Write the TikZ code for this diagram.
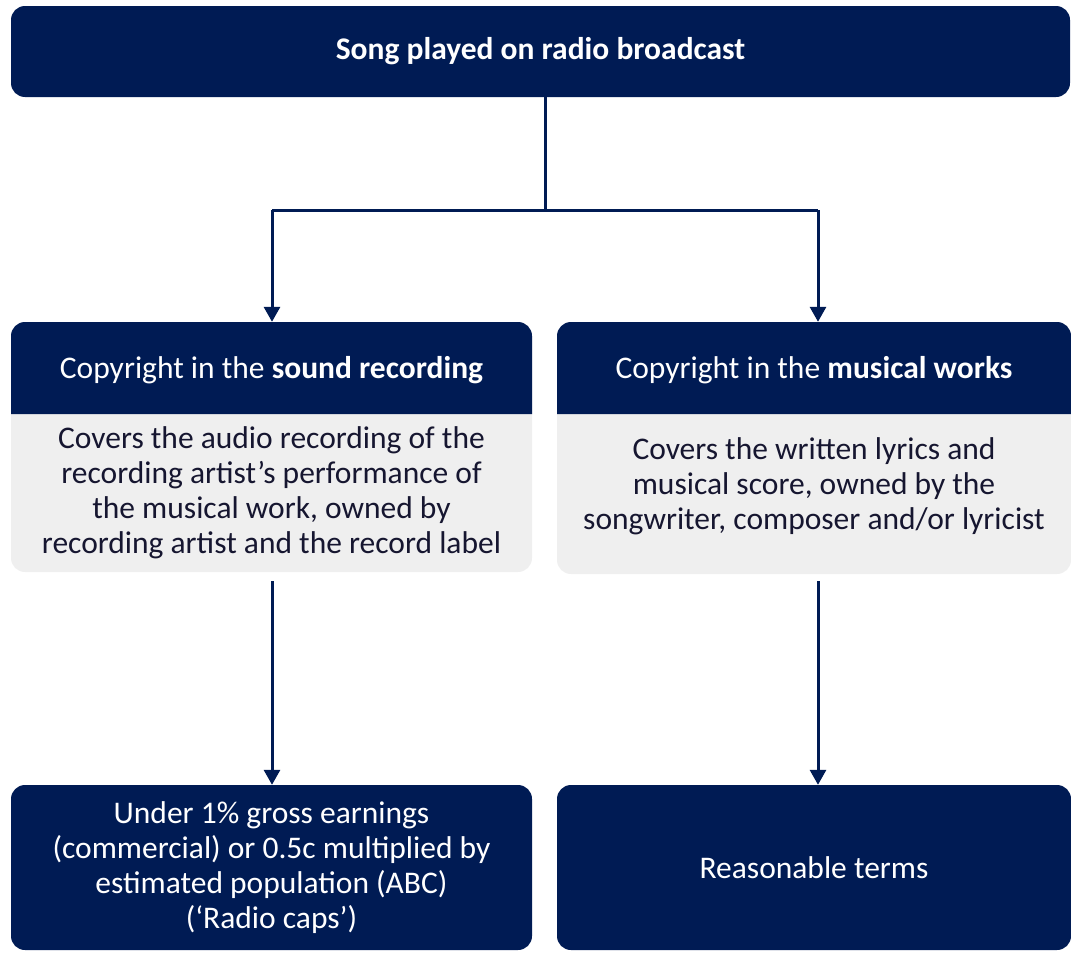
\documentclass[tikz,border=0pt]{standalone}
\usepackage{fontspec}
\setmainfont{Carlito}
\usetikzlibrary{arrows.meta}
\definecolor{navy}{RGB}{0,27,84}
\definecolor{paleg}{RGB}{239,239,239}
\definecolor{inkc}{RGB}{22,22,48}
\begin{document}
\begin{tikzpicture}[x=1pt,y=-1pt,
  darkbox/.style={fill=navy,rounded corners=14pt,inner sep=0pt,text=white,align=center,
    font=\fontsize{31.5}{35}\selectfont},
  bodybox/.style={fill=paleg,rounded corners=14pt,inner sep=0pt},
  bodytext/.style={inner sep=0pt,text=inkc,align=center,font=\fontsize{31.5}{35}\selectfont},
  headtext/.style={inner sep=0pt,text=white,align=center,font=\fontsize{31.5}{35}\selectfont},
  conn/.style={draw=navy,line width=3pt},
  arr/.style={conn,-{Triangle[width=16pt,length=15pt]}}]
\useasboundingbox (0,0) rectangle (1071,953);
% top
\node[darkbox,minimum width=1059pt,minimum height=91pt] (top) at (540.5,51.5) {\bfseries Song played on radio broadcast};
% middle bodies
\node[bodybox,minimum width=521pt,minimum height=250pt] (srbody) at (271.5,447) {};
\node[bodybox,minimum width=514pt,minimum height=252pt] (mwbody) at (814,448) {};
% header fills (top corners rounded)
\fill[navy] (11,414) [rounded corners=14pt] -- (11,322) -- (532,322) [sharp corners] -- (532,414) -- cycle;
\fill[navy] (557,414) [rounded corners=14pt] -- (557,322) -- (1071,322) [sharp corners] -- (1071,414) -- cycle;
\node[headtext] (srhead) at (271.5,370) {Copyright in the \textbf{sound recording}};
\node[headtext] (mwhead) at (814,370) {Copyright in the \textbf{musical works}};
\node[bodytext] (srtext) at (271.5,493) {Covers the audio recording of the\\recording artist’s performance of\\the musical work, owned by\\recording artist and the record label};
\node[bodytext] (mwtext) at (814,486) {Covers the written lyrics and\\musical score, owned by the\\songwriter, composer and/or lyricist};
% bottom
\node[darkbox,minimum width=521pt,minimum height=165pt] (caps) at (271.5,867.5) {Under 1\% gross earnings\\(commercial) or 0.5c multiplied by\\estimated population (ABC)\\(‘Radio caps’)};
\node[darkbox,minimum width=514pt,minimum height=165pt] (terms) at (814,867.5) {Reasonable terms};
% connectors
\coordinate (stem) at (545,210);
\coordinate (jl) at (272,210);
\coordinate (jr) at (818,210);
\coordinate (bl) at (272,581);
\coordinate (br) at (818,581);
\draw[conn] (top.south -| stem) -- (stem);
\draw[conn] (jl) -- (jr);
\draw[arr] (jl) -- (jl |- srbody.north);
\draw[arr] (jr) -- (jr |- mwbody.north);
\draw[arr] (bl) -- (bl |- caps.north);
\draw[arr] (br) -- (br |- terms.north);
\end{tikzpicture}
\end{document}
